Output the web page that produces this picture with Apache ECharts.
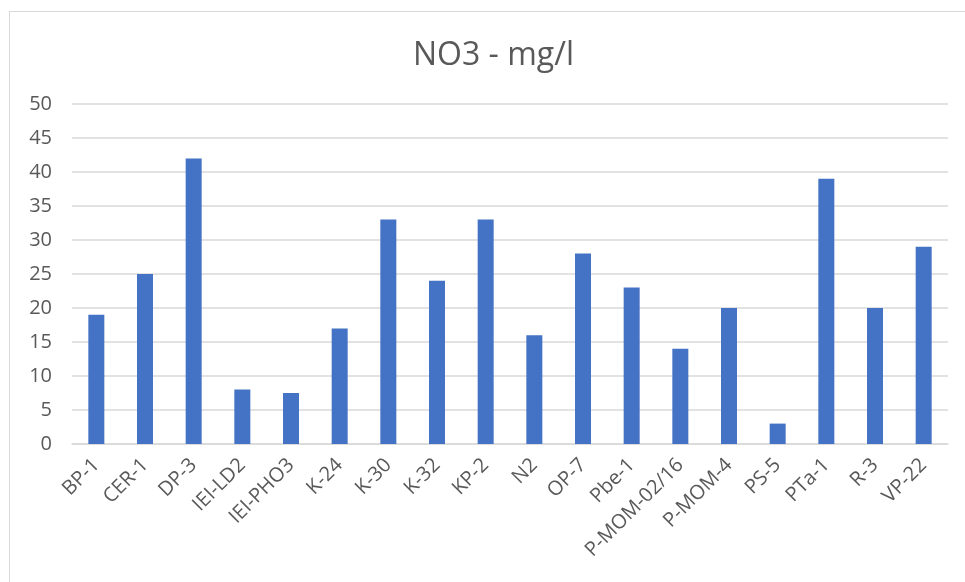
<!DOCTYPE html>
<html>
<head>
<meta charset="utf-8">
<script src="https://cdn.jsdelivr.net/npm/echarts@6/dist/echarts.min.js"></script>
<style>
  html, body { margin: 0; padding: 0; background: #ffffff; }
  #frame { position: absolute; left: 9px; top: 11px; width: 980px; height: 600px;
           border: 1px solid #d9d9d9; box-sizing: border-box; }
  #chart { position: absolute; left: 0; top: 0; width: 965px; height: 582px; }
</style>
</head>
<body>
<div id="frame"></div>
<div id="chart"></div>
<script>
// Sampling points and nitrate concentration (mg/l)
const stations = ['BP-1', 'CER-1', 'DP-3', 'IEI-LD2', 'IEI-PHO3', 'K-24', 'K-30', 'K-32', 'KP-2', 'N2',
                  'OP-7', 'Pbe-1', 'P-MOM-02/16', 'P-MOM-4', 'PS-5', 'PTa-1', 'R-3', 'VP-22'];
const no3Values = [19, 25, 42, 8, 7.5, 17, 33, 24, 33, 16, 28, 23, 14, 20, 3, 39, 20, 29];
const yTicks = { min: 0, max: 50, step: 5 };
const chartTitle = 'NO3 - mg/l';

const fontFamily = '"Open Sans", "Liberation Sans", sans-serif';
const chart = echarts.init(document.getElementById('chart'), null, { renderer: 'canvas' });
chart.setOption({
  animation: false,
  backgroundColor: 'transparent',
  title: {
    text: chartTitle,
    left: 408,
    top: 35,
    textStyle: { fontFamily: fontFamily, fontSize: 32, fontWeight: 'normal', color: '#595959' }
  },
  grid: { left: 72, right: 17, top: 104, bottom: 138 },
  xAxis: {
    type: 'category',
    data: stations,
    axisLine: { lineStyle: { color: '#d9d9d9', width: 1.5 } },
    axisTick: { show: false },
    axisLabel: {
      rotate: 45,
      interval: 0,
      margin: 18,
      fontFamily: fontFamily,
      fontSize: 20,
      color: '#595959'
    }
  },
  yAxis: {
    type: 'value',
    min: yTicks.min,
    max: yTicks.max,
    interval: yTicks.step,
    axisLine: { show: false },
    axisTick: { show: false },
    splitLine: { lineStyle: { color: '#d9d9d9', width: 1.5 } },
    axisLabel: { margin: 20, fontFamily: fontFamily, fontSize: 20, color: '#595959' }
  },
  series: [{
    type: 'bar',
    data: no3Values,
    barWidth: 16,
    itemStyle: { color: '#4472c4' }
  }]
});
</script>
</body>
</html>
